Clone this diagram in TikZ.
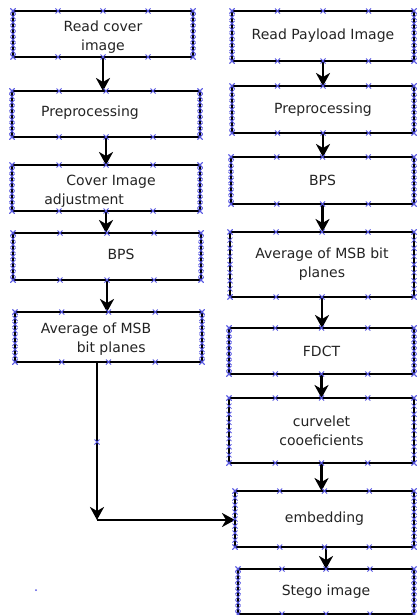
\documentclass[tikz,border=0pt]{standalone}
\usepackage{fontspec}
\setmainfont{DejaVu Sans}
\usetikzlibrary{arrows.meta,calc}

\definecolor{markcol}{RGB}{85,85,225}
\definecolor{textcol}{RGB}{35,35,35}

% small blue cross
\newcommand{\xmk}[1]{\draw[xmark] #1 +(-2.5,-2.5) -- +(2.5,2.5) +(-2.5,2.5) -- +(2.5,-2.5);}
% crosses round a box
\newcommand{\boxmarks}[1]{%
  \foreach \f in {0,0.25,0.5,0.75,1}{
    \xmk{($(#1.north west)!\f!(#1.north east)$)}
    \xmk{($(#1.south west)!\f!(#1.south east)$)}
  }
  \foreach \f in {0,0.125,0.25,0.375,0.5,0.625,0.75,0.875,1}{
    \xmk{($(#1.north west)!\f!(#1.south west)$)}
    \xmk{($(#1.north east)!\f!(#1.south east)$)}
  }}

\begin{document}
\begin{tikzpicture}[x=1pt,y=-1pt,
    box/.style={draw,line width=2.4pt,outer sep=0pt,inner sep=0pt,align=center,
        text=textcol,font=\fontsize{14}{19}\selectfont},
    txt/.style={inner sep=0pt,text=textcol,font=\fontsize{14}{19}\selectfont},
    arr/.style={line width=2.4pt,-{Stealth[length=13pt,width=14pt,inset=4pt]}},
    xmark/.style={draw=markcol,line width=0.8pt}]
    \useasboundingbox (0,0) rectangle (417,615);

    % left column
    \node[box,minimum width=180pt,minimum height=46pt](l1) at (103,34){};
    \node[txt,align=center](l1t) at (103,37){Read cover\\image};
    \node[box,minimum width=188pt,minimum height=46pt](l2) at (106,114){};
    \node[txt](l2t) at (90,113){Preprocessing};
    \node[box,minimum width=188pt,minimum height=46pt](l3) at (106,188){};
    \node[txt,align=left](l3t) at (100,191){\hspace*{22pt}Cover Image\\adjustment};
    \node[box,minimum width=188pt,minimum height=47pt](l4) at (107,256.5){};
    \node[txt](l4t) at (121,254){BPS};
    \node[box,minimum width=187pt,minimum height=50pt](l5) at (108.5,337){};
    \node[txt,align=left](l5t) at (96,339){Average of MSB\\\hspace*{36pt}bit planes};

    % right column
    \node[box,minimum width=182pt,minimum height=50pt](r1) at (323,36){Read Payload Image};
    \node[box,minimum width=182pt,minimum height=47pt](r2) at (323,109.5){Preprocessing};
    \node[box,minimum width=183pt,minimum height=47pt](r3) at (322.5,180.5){BPS};
    \node[box,minimum width=184pt,minimum height=65pt](r4) at (322,264.5){Average of MSB bit\\planes};
    \node[box,minimum width=185pt,minimum height=46pt](r5) at (321.5,351){FDCT};
    \node[box,minimum width=185pt,minimum height=65pt](r6) at (321.5,430.5){curvelet\\cooeficients};
    \node[box,minimum width=179pt,minimum height=56pt](r7) at (324.5,519){embedding};
    \node[box,minimum width=176pt,minimum height=45pt](r8) at (326,591.5){Stego image};

    % arrows
    \draw[arr](l1.south)--(l1.south |- l2.north);
    \draw[arr](l2.south)--(l2.south |- l3.north);
    \draw[arr](l3.south)--(l3.south |- l4.north);
    \draw[arr](l4.south)--(l4.south |- l5.north);
    \draw[arr](r1.south)--(r1.south |- r2.north);
    \draw[arr](r2.south)--(r2.south |- r3.north);
    \draw[arr](r3.south)--(r3.south |- r4.north);
    \draw[arr](r4.south)--(r4.south |- r5.north);
    \draw[arr](r5.south)--(r5.south |- r6.north);
    \draw[arr](r6.south)--(r6.south |- r7.north);
    \draw[arr](r8.north |- r7.south)--(r8.north);
    \coordinate(bend) at (97,520);
    \draw[arr](l5.south -| bend)--(bend);
    \draw[arr](bend)--(bend -| r7.west);

    % blue marks
    \foreach \b in {l1,l2,l3,l4,l5,r1,r2,r3,r4,r5,r6,r7,r8}{\boxmarks{\b}}
    \xmk{(97,442)}
    \fill[markcol](36,590) circle (1);
\end{tikzpicture}
\end{document}
